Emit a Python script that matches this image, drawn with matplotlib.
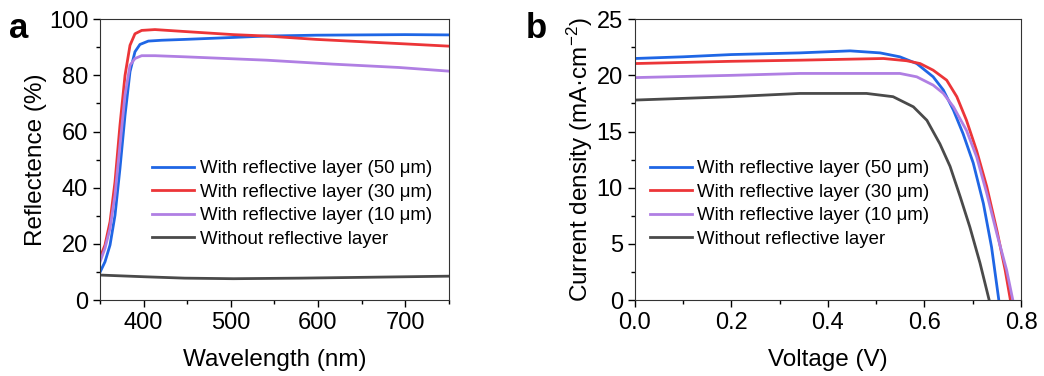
import matplotlib.pyplot as plt
from matplotlib.ticker import AutoMinorLocator

plt.rcParams['font.family'] = ['Liberation Sans', 'DejaVu Sans']
plt.rcParams['mathtext.fontset'] = 'custom'
plt.rcParams['mathtext.rm'] = 'Liberation Sans'
plt.rcParams['mathtext.default'] = 'regular'

labels = ['With reflective layer (50 μm)', 'With reflective layer (30 μm)',
          'With reflective layer (10 μm)', 'Without reflective layer']
colors = ['#1f66e5', '#ec3538', '#b07fe3', '#4a4a4a']

# panel a: reflectance spectra
wl_50 = [350, 355.7, 361.5, 367.2, 372.9, 378.7, 384.4, 390.1, 395.8, 405.4, 420.7, 447.4, 503, 541, 598, 650, 700, 750]
r_50 = [9.9, 13.6, 19.6, 30.2, 46.9, 65.8, 81.3, 88.4, 91.0, 92.2, 92.5, 92.8, 93.5, 94.0, 94.3, 94.4, 94.5, 94.4]
wl_30 = [350, 355.7, 361.5, 367.2, 372.9, 378.7, 384.4, 390.1, 397.8, 413, 447.4, 503, 541, 598, 655, 700, 750]
r_30 = [15.1, 19.6, 27.9, 42.1, 62.3, 80.0, 90.7, 94.8, 96.0, 96.3, 95.6, 94.5, 94.0, 92.8, 91.9, 91.2, 90.4]
wl_10 = [350, 355.7, 361.5, 367.2, 372.9, 378.7, 384.4, 390.1, 397.8, 413, 447.4, 541, 617, 693, 750]
r_10 = [13.6, 18.4, 25.5, 37.4, 55.2, 73.0, 83.6, 86.0, 87.0, 87.0, 86.6, 85.4, 84.0, 82.8, 81.5]
wl_0 = [350, 400, 447, 503, 579, 655, 750]
r_0 = [8.9, 8.3, 7.8, 7.6, 7.8, 8.1, 8.5]

# panel b: J-V curves
v_50 = [0, 0.1, 0.2, 0.342, 0.446, 0.508, 0.549, 0.584, 0.618, 0.639, 0.660, 0.680, 0.701, 0.722, 0.739, 0.754]
j_50 = [21.5, 21.65, 21.85, 22.0, 22.18, 22.0, 21.65, 21.05, 19.87, 18.7, 16.9, 14.8, 12.2, 8.6, 4.7, 0]
v_30 = [0, 0.1, 0.2, 0.342, 0.515, 0.563, 0.591, 0.618, 0.646, 0.667, 0.687, 0.708, 0.729, 0.750, 0.767, 0.778]
j_30 = [21.05, 21.15, 21.25, 21.35, 21.5, 21.3, 21.05, 20.46, 19.57, 18.1, 16.0, 13.3, 10.1, 6.2, 2.7, 0]
v_10 = [0, 0.1, 0.2, 0.342, 0.549, 0.584, 0.618, 0.639, 0.660, 0.687, 0.708, 0.729, 0.750, 0.770, 0.783]
j_10 = [19.8, 19.9, 20.0, 20.17, 20.17, 19.87, 19.13, 18.4, 17.2, 15.1, 12.75, 9.5, 5.9, 2.7, 0]
v_0 = [0, 0.1, 0.2, 0.342, 0.480, 0.535, 0.577, 0.605, 0.632, 0.653, 0.674, 0.694, 0.715, 0.734]
j_0 = [17.8, 17.95, 18.1, 18.39, 18.39, 18.1, 17.2, 16.0, 13.9, 11.9, 9.2, 6.5, 3.3, 0]

fig = plt.figure(figsize=(10.44, 3.76), dpi=100)
ax1 = fig.add_axes([0.0958, 0.202, 0.334, 0.747])
ax2 = fig.add_axes([0.608, 0.202, 0.370, 0.747])

for x, y, c, l in zip([wl_50, wl_30, wl_10, wl_0], [r_50, r_30, r_10, r_0], colors, labels):
    ax1.plot(x, y, color=c, lw=2, label=l)
for x, y, c, l in zip([v_50, v_30, v_10, v_0], [j_50, j_30, j_10, j_0], colors, labels):
    ax2.plot(x, y, color=c, lw=2, label=l)

ax1.set_xlim(350, 750)
ax1.set_ylim(0, 100)
ax1.set_xticks([400, 500, 600, 700])
ax1.set_yticks([0, 20, 40, 60, 80, 100])
ax1.set_xlabel('Wavelength (nm)', fontsize=17.5, labelpad=11)
ax1.set_ylabel('Reflectence (%)', fontsize=17.5, labelpad=1)

ax2.set_xlim(0, 0.8)
ax2.set_ylim(0, 25)
ax2.set_xticks([0, 0.2, 0.4, 0.6, 0.8])
ax2.set_yticks([0, 5, 10, 15, 20, 25])
ax2.set_xlabel('Voltage (V)', fontsize=17.5, labelpad=11)
ax2.set_ylabel('Current density (mA·cm$^{-2}$)', fontsize=17.5, labelpad=1)

for ax in (ax1, ax2):
    ax.xaxis.set_minor_locator(AutoMinorLocator(2))
    ax.yaxis.set_minor_locator(AutoMinorLocator(2))
    ax.tick_params(which='major', direction='out', length=5, width=1, labelsize=17)
    ax.tick_params(which='minor', direction='out', length=3, width=1)
    for s in ax.spines.values():
        s.set_color('#333333')

ax1.legend(loc='lower left', bbox_to_anchor=(0.129, 0.16), frameon=False,
           fontsize=13.4, handlelength=2.25, handletextpad=0.3, labelspacing=0.35,
           borderaxespad=0)
ax2.legend(loc='lower left', bbox_to_anchor=(0.02, 0.16), frameon=False,
           fontsize=13.4, handlelength=2.25, handletextpad=0.3, labelspacing=0.35,
           borderaxespad=0)

fig.text(0.009, 0.90, 'a', fontsize=25, fontweight='bold')
fig.text(0.504, 0.90, 'b', fontsize=25, fontweight='bold')

fig.savefig('out.png', dpi=100)
